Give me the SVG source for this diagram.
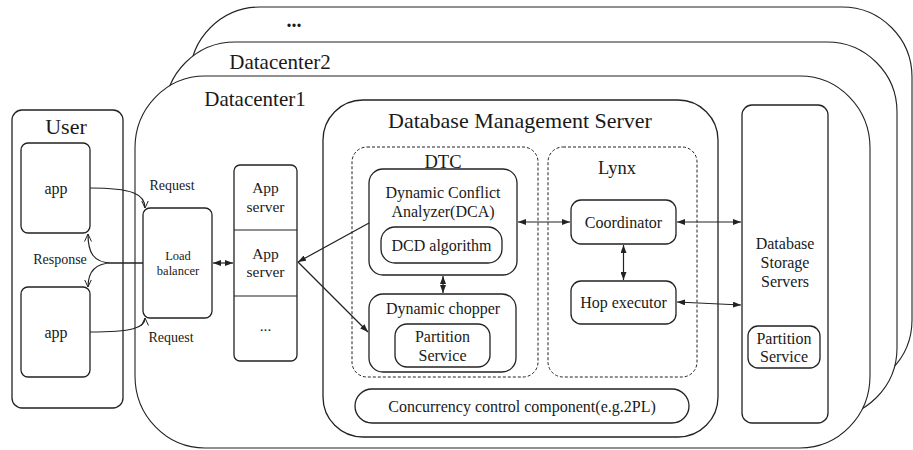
<svg xmlns="http://www.w3.org/2000/svg" width="913" height="450" viewBox="0 0 913 450">
<defs>
<style>
text{font-family:"Liberation Serif","Times New Roman",serif;fill:#1a1a1a;text-anchor:middle}
.dc{fill:#fff;stroke:#222;stroke-width:1.1}
.box{fill:#fff;stroke:#222;stroke-width:1.3}
.dash{fill:none;stroke:#222;stroke-width:1;stroke-dasharray:3 2}
.ln{fill:none;stroke:#222;stroke-width:1.2}
.t14{font-size:14px}.t16{font-size:16px}.t12{font-size:12.5px}.t15{font-size:15.5px}
</style>
<marker id="ah" viewBox="0 0 8 6" refX="8" refY="3" markerWidth="8" markerHeight="6" markerUnits="userSpaceOnUse" orient="auto-start-reverse"><path d="M0,0 L8,3 L0,6 z" fill="#222"/></marker>
<marker id="oh" viewBox="0 0 8 8" refX="7.5" refY="4" markerWidth="8" markerHeight="8" markerUnits="userSpaceOnUse" orient="auto"><path d="M0,0.5 L7.5,4 L0,7.5" fill="none" stroke="#222" stroke-width="1"/></marker>
</defs>

<g id="datacenter-n">
<rect class="dc" x="190" y="7" width="722" height="383" rx="70" ry="70"/>
<text x="294" y="27" style="font-size:20px;font-weight:bold">...</text>
</g>
<g id="datacenter2">
<rect class="dc" x="165" y="42" width="732" height="376" rx="70" ry="70"/>
<text x="280" y="69" style="font-size:21px">Datacenter2</text>
</g>
<g id="datacenter1">
<rect class="dc" x="135" y="76" width="735" height="372" rx="70" ry="72"/>
<text x="255" y="106" style="font-size:21px">Datacenter1</text>
</g>

<g id="user">
<rect class="box" x="12" y="110" width="111" height="298" rx="10"/>
<text x="66" y="134" style="font-size:22px">User</text>
</g>
<g id="app1">
<rect class="box" x="21" y="143" width="69" height="90" rx="7"/>
<text class="t16" x="56" y="194">app</text>
</g>
<g id="app2">
<rect class="box" x="21" y="287" width="69" height="90" rx="7"/>
<text class="t16" x="56" y="338">app</text>
</g>
<g id="load-balancer">
<rect class="box" x="143" y="208" width="69" height="110" rx="7"/>
<text class="t12" x="178" y="260">Load</text>
<text class="t12" x="178" y="275">balancer</text>
</g>
<g id="app-servers">
<rect class="box" x="234" y="165" width="63" height="196" rx="6"/>
<line class="ln" x1="234" y1="230" x2="297" y2="230"/>
<line class="ln" x1="234" y1="296" x2="297" y2="296"/>
<text class="t15" x="265.5" y="193">App</text>
<text class="t15" x="265.5" y="212">server</text>
<text class="t15" x="265.5" y="259">App</text>
<text class="t15" x="265.5" y="277">server</text>
<text class="t15" x="265.5" y="331">...</text>
</g>

<g id="dms">
<rect class="box" x="323" y="100" width="395" height="337" rx="40"/>
<text x="520" y="128" style="font-size:22px">Database Management Server</text>
</g>
<g id="dtc">
<rect class="dash" x="352" y="147" width="186" height="230" rx="15"/>
<text x="443" y="168" style="font-size:18.5px">DTC</text>
</g>
<g id="dca">
<rect class="box" x="369" y="169" width="148" height="106" rx="14"/>
<text class="t16" x="443" y="198">Dynamic Conflict</text>
<text class="t16" x="443" y="217">Analyzer(DCA)</text>
</g>
<g id="dcd">
<rect class="box" x="381" y="227" width="121" height="36" rx="14"/>
<text class="t16" x="441.5" y="251">DCD algorithm</text>
</g>
<g id="chopper">
<rect class="box" x="369" y="294" width="147" height="78" rx="14"/>
<text class="t16" x="443" y="314">Dynamic chopper</text>
</g>
<g id="partition-dtc">
<rect class="box" x="395" y="324" width="95" height="43" rx="12"/>
<text class="t16" x="442.5" y="342">Partition</text>
<text class="t16" x="442.5" y="361">Service</text>
</g>
<g id="lynx">
<rect class="dash" x="548" y="147" width="149" height="230" rx="15"/>
<text x="617" y="174" style="font-size:18.5px">Lynx</text>
</g>
<g id="coordinator">
<rect class="box" x="571" y="200" width="105" height="44" rx="10"/>
<text class="t16" x="623.5" y="228">Coordinator</text>
</g>
<g id="hop-executor">
<rect class="box" x="571" y="281" width="105" height="43" rx="10"/>
<text class="t16" x="623.5" y="308">Hop executor</text>
</g>
<g id="concurrency">
<rect class="box" x="355" y="389" width="334" height="34" rx="17"/>
<text class="t16" x="522" y="412">Concurrency control component(e.g.2PL)</text>
</g>
<g id="dss">
<rect class="box" x="742" y="105" width="86" height="318" rx="10"/>
<text class="t16" x="785" y="249">Database</text>
<text class="t16" x="785" y="268">Storage</text>
<text class="t16" x="785" y="287">Servers</text>
</g>
<g id="partition-dss">
<rect class="box" x="748" y="326" width="72" height="42" rx="10"/>
<text class="t16" x="784" y="344">Partition</text>
<text class="t16" x="784" y="362">Service</text>
</g>

<g id="connectors">
<path class="ln" d="M90,188 C132,188 145,194 145,208" marker-end="url(#oh)"/>
<path class="ln" d="M90,332 C132,332 145,328 145,318" marker-end="url(#oh)"/>
<path class="ln" d="M143,263 L112,263 C93,263 88,252 88,234" marker-end="url(#oh)"/>
<path class="ln" d="M143,263 L112,263 C93,263 88,274 88,287" marker-end="url(#oh)"/>
<text class="t14" x="172" y="190">Request</text>
<text class="t14" x="171" y="342">Request</text>
<text class="t14" x="60" y="264">Response</text>
<line class="ln" x1="213" y1="263" x2="233" y2="263" marker-start="url(#ah)" marker-end="url(#ah)"/>
<line class="ln" x1="369" y1="223" x2="298" y2="262" marker-end="url(#ah)"/>
<line class="ln" x1="298" y1="262" x2="368" y2="332" marker-end="url(#ah)"/>
<line class="ln" x1="443" y1="276" x2="443" y2="293" marker-start="url(#ah)" marker-end="url(#ah)"/>
<line class="ln" x1="518" y1="222" x2="570" y2="222" marker-start="url(#ah)" marker-end="url(#ah)"/>
<line class="ln" x1="677" y1="222" x2="741" y2="222" marker-start="url(#ah)" marker-end="url(#ah)"/>
<line class="ln" x1="623.5" y1="245" x2="623.5" y2="280" marker-start="url(#ah)" marker-end="url(#ah)"/>
<line class="ln" x1="677" y1="302" x2="741" y2="305" marker-start="url(#ah)" marker-end="url(#ah)"/>
</g>
</svg>
